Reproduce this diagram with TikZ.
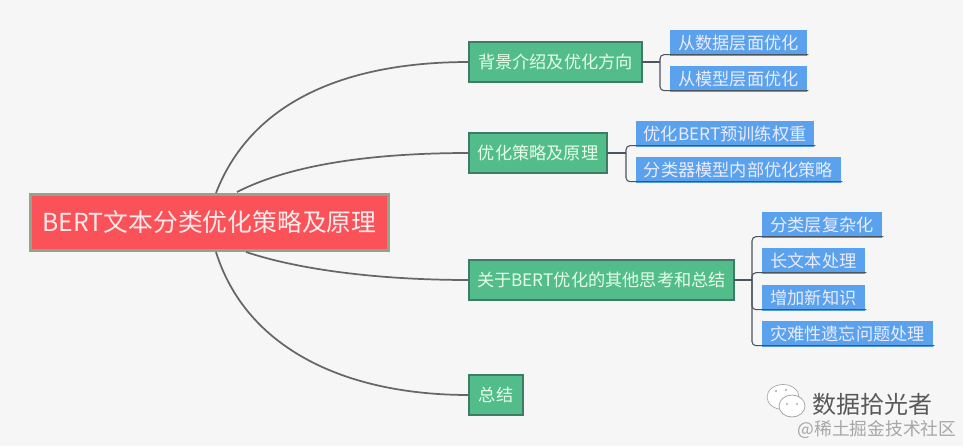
\documentclass[tikz,border=0pt]{standalone}
\usepackage{fontspec}
\setmainfont{Noto Sans CJK SC}
\begin{document}
\begin{tikzpicture}[x=0.75pt,y=-0.75pt,
  box/.style={inner sep=0pt,outer sep=0pt,text=#1},
  wh/.style 2 args={minimum width=#1*0.75pt,minimum height=#2*0.75pt},
  rootbox/.style={box=white!92!red,fill=rootred,draw=rootedge,line width=1.8pt,font=\fontsize{18.6}{20}\selectfont},
  greenbox/.style={box=white!90!green,fill=branchgreen,draw=greenedge,line width=0.9pt,font=\fontsize{12.9}{14}\selectfont},
  bluebox/.style={box=white!92!blue,fill=leafblue,font=\fontsize{12.9}{14}\selectfont},
  curve/.style={draw=curvegray,line width=1.3pt},
  bracket/.style={draw=bracketgray,line width=0.8pt,rounded corners=3pt}]
\definecolor{bgc}{HTML}{F6F6F6}
\definecolor{rootred}{HTML}{FB5158}
\definecolor{rootedge}{HTML}{8FA58C}
\definecolor{branchgreen}{HTML}{52BC8A}
\definecolor{greenedge}{HTML}{3F7C66}
\definecolor{leafblue}{HTML}{5AA2EE}
\definecolor{curvegray}{HTML}{666666}
\definecolor{bracketgray}{HTML}{4A555C}
\useasboundingbox (0,0) rectangle (963,446);
\fill[bgc] (0,0) rectangle (963,446);
% curves (drawn under the boxes)
\node[rootbox,wh={358}{56}] (root) at (209.5,222.5) {BERT文本分类优化策略及原理};
\node[greenbox,wh={173}{40}] (g1) at (555.5,62) {背景介绍及优化方向};
\node[greenbox,wh={138}{40}] (g2) at (538,153) {优化策略及原理};
\node[greenbox,wh={265}{40}] (g3) at (601.5,280) {关于BERT优化的其他思考和总结};
\node[greenbox,wh={54}{40}] (g4) at (496,395) {总结};
\coordinate (r1) at (216,193);
\coordinate (r2) at (237,192);
\coordinate (r3) at (246,252);
\coordinate (r4) at (216,252);
\draw[curve] (r1) .. controls (250,105) and (340,62) .. (g1.west);
\draw[curve] (r2) .. controls (290,165) and (370,153) .. (g2.west);
\draw[curve] (r3) .. controls (300,270) and (380,280) .. (g3.west);
\draw[curve] (r4) .. controls (245,345) and (340,395) .. (g4.west);
% leaves
\node[bluebox,wh={137}{26}] (a) at (738.5,43) {从数据层面优化};
\node[bluebox,wh={137}{26}] (b) at (738.5,79) {从模型层面优化};
\node[bluebox,wh={178}{26}] (c) at (725,134) {优化BERT预训练权重};
\node[bluebox,wh={205}{26}] (d) at (738.5,170) {分类器模型内部优化策略};
\node[bluebox,wh={120}{26}] (e) at (822,225) {分类层复杂化};
\node[bluebox,wh={103}{26}] (f) at (813.5,261) {长文本处理};
\node[bluebox,wh={103}{26}] (g) at (813.5,298) {增加新知识};
\node[bluebox,wh={171}{26}] (h) at (847.5,334) {灾难性遗忘问题处理};
% brackets
\coordinate (j1) at (660,62);
\coordinate (j2) at (626,153);
\coordinate (j3) at (752,280);
\draw[bracket,rounded corners=0pt] (g1.east) -- (j1);
\draw[bracket] (j1) |- ([xshift=1pt,yshift=1pt]a.south east);
\draw[bracket] (j1) |- ([xshift=1pt,yshift=1pt]b.south east);
\draw[bracket,rounded corners=0pt] (g2.east) -- (j2);
\draw[bracket] (j2) |- ([xshift=1pt,yshift=1pt]c.south east);
\draw[bracket] (j2) |- ([xshift=1pt,yshift=1pt]d.south east);
\draw[bracket,rounded corners=0pt] (g3.east) -- (j3);
\draw[bracket] (j3) |- ([xshift=1pt,yshift=1pt]e.south east);
\draw[bracket] (j3) |- ([xshift=1pt,yshift=1pt]f.south east);
\draw[bracket] (j3) |- ([xshift=1pt,yshift=1pt]g.south east);
\draw[bracket] (j3) |- ([xshift=1pt,yshift=1pt]h.south east);
% watermark
\draw[gray!70,fill=white,line width=0.5pt] (783,397) ellipse (16 and 12.5);
\draw[gray!80,fill=white,line width=0.5pt] (792,406) ellipse (13 and 11);
\fill[gray] (787,404) circle (0.8) (797,404) circle (0.8) (776,391) circle (0.8) (786,390) circle (0.8);
\node[inner sep=0pt,text=black!65,font=\fontsize{18}{20}\selectfont] (wm) at (872,404) {数据拾光者};
\node[inner sep=0pt,text=black!35,font=\fontsize{13.3}{14}\selectfont] (wm2) at (877,429) {@稀土掘金技术社区};
\end{tikzpicture}
\end{document}
